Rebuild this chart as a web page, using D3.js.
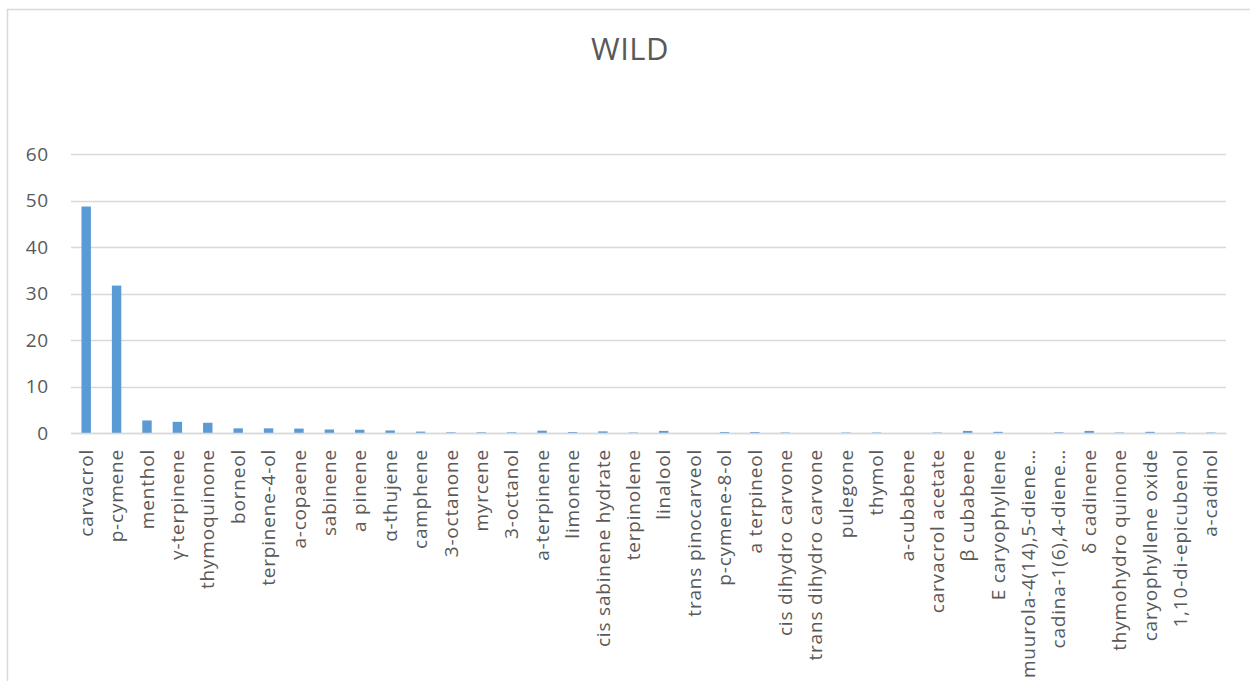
<!DOCTYPE html>
<html>
<head>
<meta charset="utf-8">
<script src="https://cdn.jsdelivr.net/npm/d3@7"></script>
<style>
  body { margin: 0; background: #fff; }
  svg { display: block; font-family: "Open Sans", sans-serif; }
</style>
</head>
<body>
<svg></svg>
<script>
var compounds = ["carvacrol", "p-cymene", "menthol", "γ-terpinene", "thymoquinone", "borneol",
  "terpinene-4-ol", "a-copaene", "sabinene", "a pinene", "α-thujene", "camphene", "3-octanone",
  "myrcene", "3-octanol", "a-terpinene", "limonene", "cis sabinene hydrate", "terpinolene",
  "linalool", "trans pinocarveol", "p-cymene-8-ol", "a terpineol", "cis dihydro carvone",
  "trans dihydro carvone", "pulegone", "thymol", "a-cubabene", "carvacrol acetate", "β cubabene",
  "E caryophyllene", "muurola-4(14),5-diene…", "cadina-1(6),4-diene…", "δ cadinene",
  "thymohydro quinone", "caryophyllene oxide", "1,10-di-epicubenol", "a-cadinol"];

var wildValues = [48.7, 31.7, 2.7, 2.4, 2.2, 1.0,
  1.0, 0.95, 0.75, 0.7, 0.55, 0.3, 0.15,
  0.15, 0.15, 0.5, 0.2, 0.35, 0.1,
  0.45, 0, 0.2, 0.2, 0.1,
  0, 0.1, 0.1, 0, 0.1, 0.45,
  0.25, 0, 0.15, 0.45,
  0.1, 0.25, 0.1, 0.1];

var yTicks = [0, 10, 20, 30, 40, 50, 60];

var svg = d3.select("svg"),
    width = 1250,
    height = 681;

svg.attr("width", width).attr("height", height);

// chart frame (only left and top edges fall inside the picture)
svg.append("rect")
    .attr("x", 7.5).attr("y", 9.5)
    .attr("width", 1260).attr("height", 700)
    .attr("fill", "none")
    .attr("stroke", "#d9d9d9")
    .attr("stroke-width", 1.5);

svg.append("text")
    .attr("x", 630).attr("y", 60)
    .attr("text-anchor", "middle")
    .attr("fill", "#595959")
    .style("font-size", "31px")
    .style("letter-spacing", "0.5px")
    .text("WILD");

var x = d3.scaleBand()
    .domain(compounds)
    .range([71, 1226])
    .paddingInner(0.69)
    .paddingOuter(0.345);

var y = d3.scaleLinear()
    .domain([0, 60])
    .range([433, 154]);

// gridlines
svg.append("g")
    .selectAll("line")
    .data(yTicks)
    .join("line")
    .attr("x1", 71).attr("x2", 1226)
    .attr("y1", d => Math.round(y(d)) + 0.5)
    .attr("y2", d => Math.round(y(d)) + 0.5)
    .attr("stroke", "#d9d9d9")
    .attr("stroke-width", 1.5);

// y axis labels
var yAxis = svg.append("g")
    .attr("transform", "translate(71,0)")
    .call(d3.axisLeft(y).tickValues(yTicks).tickSize(0).tickPadding(22));
yAxis.select(".domain").remove();
yAxis.selectAll("text")
    .attr("fill", "#595959")
    .style("font-size", "19px")
    .style("letter-spacing", "0.8px")
    .style("font-family", "'Open Sans', sans-serif");

// bars
svg.append("g")
    .selectAll("rect")
    .data(compounds)
    .join("rect")
    .attr("x", d => x(d))
    .attr("width", x.bandwidth())
    .attr("y", (d, i) => y(wildValues[i]))
    .attr("height", (d, i) => y(0) - y(wildValues[i]))
    .attr("fill", "#5b9bd5");

// x axis labels
var xAxis = svg.append("g")
    .attr("transform", "translate(0,433)")
    .call(d3.axisBottom(x).tickSize(0).tickPadding(0));
xAxis.select(".domain")
    .attr("stroke", "#d9d9d9")
    .attr("stroke-width", 1.5);
xAxis.selectAll("text")
    .attr("fill", "#595959")
    .style("font-size", "19px")
    .style("letter-spacing", "0.8px")
    .style("font-family", "'Open Sans', sans-serif")
    .attr("transform", "rotate(-90)")
    .attr("x", -16)
    .attr("y", 0)
    .attr("dy", "0.35em")
    .attr("text-anchor", "end");
</script>
</body>
</html>
